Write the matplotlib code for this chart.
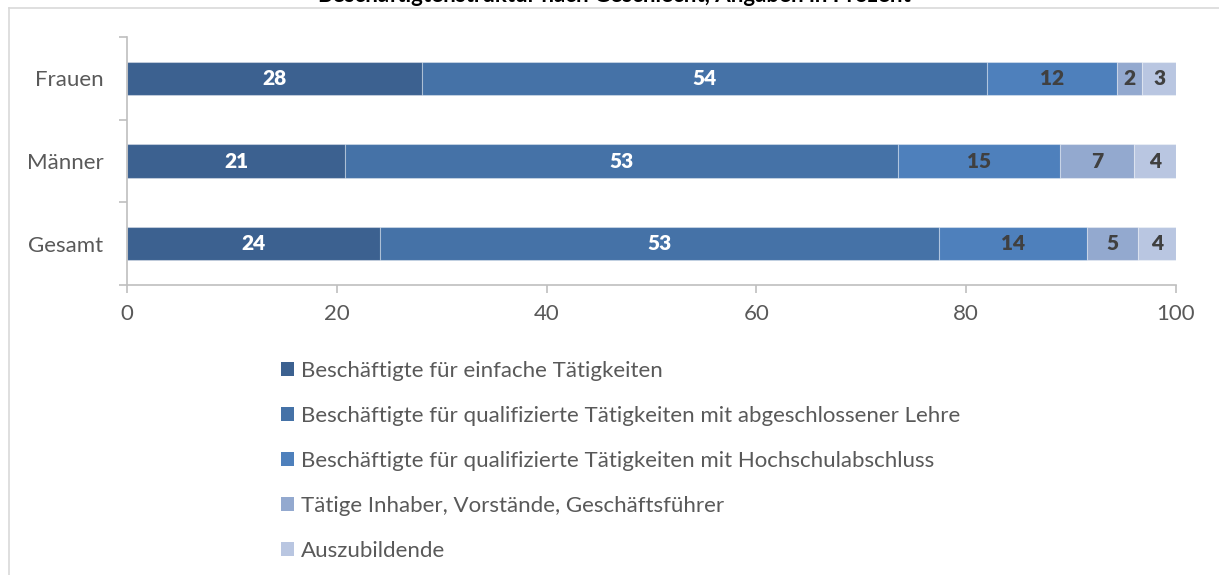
import matplotlib
matplotlib.use("Agg")
import matplotlib.pyplot as plt
from matplotlib.patches import Patch
from matplotlib.lines import Line2D
import numpy as np

plt.rcParams['font.family'] = ['Lato', 'DejaVu Sans']

categories = ["Gesamt", "Männer", "Frauen"]
series_names = [
    "Beschäftigte für einfache Tätigkeiten",
    "Beschäftigte für qualifizierte Tätigkeiten mit abgeschlossener Lehre",
    "Beschäftigte für qualifizierte Tätigkeiten mit Hochschulabschluss",
    "Tätige Inhaber, Vorstände, Geschäftsführer",
    "Auszubildende",
]
# values per series, order: Gesamt, Männer, Frauen
einfach = [24.1, 20.8, 28.1]
lehre = [53.3, 52.7, 53.9]
hochschule = [14.1, 15.4, 12.4]
inhaber = [4.9, 7.1, 2.4]
azubi = [3.6, 4.0, 3.2]
# displayed labels
lbl_einfach = [24, 21, 28]
lbl_lehre = [53, 53, 54]
lbl_hochschule = [14, 15, 12]
lbl_inhaber = [5, 7, 2]
lbl_azubi = [4, 4, 3]
xticks = [0, 20, 40, 60, 80, 100]
title = "Beschäftigtenstruktur nach Geschlecht, Angaben in Prozent"

series = [einfach, lehre, hochschule, inhaber, azubi]
labels = [lbl_einfach, lbl_lehre, lbl_hochschule, lbl_inhaber, lbl_azubi]
colors = ["#3C6190", "#4572A7", "#4E80BC", "#93A9CF", "#B9C6E1"]
text_colors = ["white", "white", "#404040", "#404040", "#404040"]

W, H = 1219, 575
fig = plt.figure(figsize=(W / 100, H / 100), dpi=100)
ax = fig.add_axes([127 / W, 1 - 285 / H, (1176 - 127) / W, (285 - 37) / H])

y = np.arange(len(categories))
left = np.zeros(len(categories))
handles = []
for vals, lbls, c, tc, name in zip(series, labels, colors, text_colors, series_names):
    vals = np.array(vals)
    bars = ax.barh(y, vals, left=left, height=0.4, color=c,
                   edgecolor=(1, 1, 1, 0.35), linewidth=0.8)
    for b, v, l in zip(bars, vals, lbls):
        ax.text(b.get_x() + b.get_width() / 2, b.get_y() + b.get_height() / 2,
                str(l), ha="center", va="center", color=tc,
                fontsize=15, fontweight="heavy")
    left += vals
    handles.append(Patch(facecolor=c, edgecolor="none", label=name))

ax.set_xlim(0, 100)
ax.set_ylim(-0.5, 2.5)
ax.set_xticks(xticks)
ax.set_xticklabels([str(t) for t in xticks])
ax.set_yticks(y)
ax.set_yticklabels(categories)
ax.set_yticks([-0.5, 0.5, 1.5, 2.5], minor=True)
ax.tick_params(axis="y", which="major", length=0, pad=17, labelsize=16, labelcolor="#595959")
ax.tick_params(axis="y", which="minor", length=6, width=1.2, color="#BFBFBF", direction="out")
ax.tick_params(axis="x", which="major", length=6, width=1.2, color="#BFBFBF", direction="out",
               pad=8, labelsize=16, labelcolor="#595959")
for s in ["top", "right"]:
    ax.spines[s].set_visible(False)
for s in ["left", "bottom"]:
    ax.spines[s].set_color("#BFBFBF")
    ax.spines[s].set_linewidth(1.2)

leg = fig.legend(handles=handles, loc="upper left",
                 bbox_to_anchor=(281 / W, 1 - 361 / H), frameon=False,
                 fontsize=16, handlelength=0.6, handleheight=0.6,
                 handletextpad=0.3, labelspacing=1.12, borderaxespad=0,
                 borderpad=0)
for t in leg.get_texts():
    t.set_color("#595959")

fig.text(614 / W, 1 - 2 / H, title, ha="center", va="baseline",
         fontsize=16, fontweight="bold", color="#000000")

fig.add_artist(Line2D([9 / W, 1], [1 - 8 / H, 1 - 8 / H], transform=fig.transFigure,
                      color="#D9D9D9", linewidth=1.2))
fig.add_artist(Line2D([9 / W, 9 / W], [1 - 8 / H, 0], transform=fig.transFigure,
                      color="#D9D9D9", linewidth=1.2))

fig.savefig("out.png", dpi=100)
